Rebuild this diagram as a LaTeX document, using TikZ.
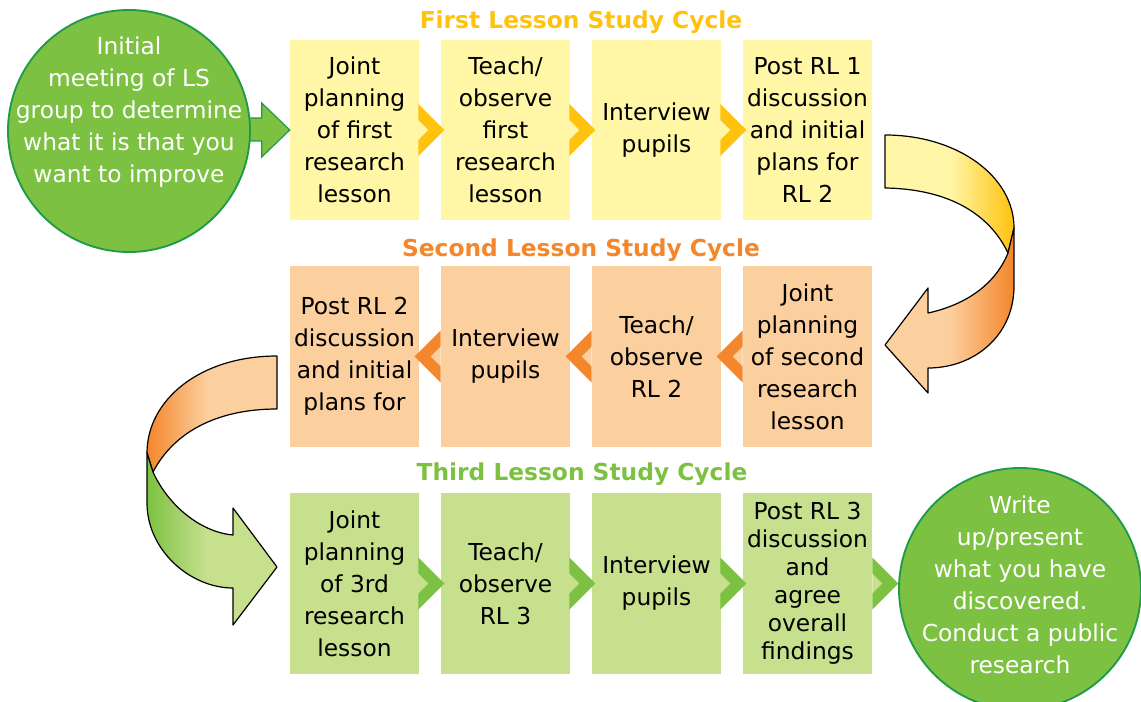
\documentclass[tikz,border=0pt]{standalone}
\usepackage{fontspec}
\setmainfont{DejaVu Sans}
\usetikzlibrary{calc}
\definecolor{ybox}{HTML}{FFF6A6}
\definecolor{obox}{HTML}{FCCF9E}
\definecolor{gbox}{HTML}{C6E08E}
\definecolor{gold}{HTML}{FFC20E}
\definecolor{orng}{HTML}{F4862B}
\definecolor{grn}{HTML}{7DC142}
\definecolor{dgrn}{HTML}{1F9A48}
\definecolor{ylight}{HTML}{FFF6A8}
\pgfdeclarehorizontalshading{yshade}{100bp}{color(0bp)=(ylight); color(50bp)=(ylight); color(75bp)=(gold); color(100bp)=(gold)}
\pgfdeclarehorizontalshading{oshadeR}{100bp}{color(0bp)=(obox); color(50bp)=(obox); color(75bp)=(orng); color(100bp)=(orng)}
\pgfdeclarehorizontalshading{oshadeL}{100bp}{color(0bp)=(orng); color(25bp)=(orng); color(48bp)=(obox); color(100bp)=(obox)}
\pgfdeclarehorizontalshading{gshadeL}{100bp}{color(0bp)=(grn); color(25bp)=(grn); color(48bp)=(gbox); color(100bp)=(gbox)}
\tikzset{
  pics/chevr/.style 2 args={code={
    \fill[#2] (0,-10)--(10,0)--(0,10)--cycle;
    \fill[#1] (0,-26)--(26,0)--(0,26)--(0,10)--(10,0)--(0,-10)--cycle;}}
}
\begin{document}
\begin{tikzpicture}[x=0.75pt,y=-0.75pt,
  box/.style={minimum width=96.75pt,minimum height=135.5pt,inner sep=0pt,align=center,font=\fontsize{17.5}{24}\selectfont},
  title/.style={font=\fontsize{17.5}{21}\selectfont\bfseries,inner sep=0pt},
  circ/.style={circle,minimum size=181.5pt,inner sep=0pt,fill=grn,draw=dgrn,line width=1.4pt},
  ctext/.style={align=center,text=white,font=\fontsize{17.5}{24}\selectfont,inner sep=0pt},
  band/.style={draw=black,line width=0.9pt,line join=round}]
\useasboundingbox (0,0) rectangle (1141,702);

% titles
\node[title,text=gold] (t1) at (581,22) {First Lesson Study Cycle};
\node[title,text=orng] (t2) at (581,250) {Second Lesson Study Cycle};
\node[title,text=grn] (t3) at (582,474) {Third Lesson Study Cycle};

% row 1
\node[box,fill=ybox] (b11) at (354.5,130) {Joint\\planning\\of first\\research\\lesson};
\node[box,fill=ybox] (b12) at (505.5,130) {Teach/\\observe\\first\\research\\lesson};
\node[box,fill=ybox] (b13) at (656.5,130) {Interview\\pupils};
\node[box,fill=ybox] (b14) at (807.5,130) {Post RL 1\\discussion\\and initial\\plans for\\RL 2};

% row 2
\node[box,fill=obox] (b21) at (354.5,356.5) {Post RL 2\\discussion\\and initial\\plans for};
\node[box,fill=obox] (b22) at (505.5,356.5) {Interview\\pupils};
\node[box,fill=obox] (b23) at (656.5,356.5) {Teach/\\observe\\RL 2};
\node[box,fill=obox] (b24) at (807.5,356.5) {Joint\\planning\\of second\\research\\lesson};

% row 3
\node[box,fill=gbox] (b31) at (354.5,583.5) {Joint\\planning\\of 3rd\\research\\lesson};
\node[box,fill=gbox] (b32) at (505.5,583.5) {Teach/\\observe\\RL 3};
\node[box,fill=gbox] (b33) at (656.5,583.5) {Interview\\pupils};
\node[box,fill=gbox,font=\fontsize{17.5}{21}\selectfont] (b34) at (807.5,583.5) {Post RL 3\\discussion\\and\\agree\\overall\\findings};

% chevrons
\pic at ($(b11.east)+(-1,0)$) {chevr={gold}{ybox}};
\pic at ($(b12.east)+(-1,0)$) {chevr={gold}{ybox}};
\pic at ($(b13.east)+(-1,0)$) {chevr={gold}{ybox}};
\pic[xscale=-1] at (b22.west) {chevr={orng}{obox}};
\pic[xscale=-1] at (b23.west) {chevr={orng}{obox}};
\pic[xscale=-1] at (b24.west) {chevr={orng}{obox}};
\pic at ($(b31.east)+(-1,0)$) {chevr={grn}{gbox}};
\pic at ($(b32.east)+(-1,0)$) {chevr={grn}{gbox}};
\pic at ($(b33.east)+(-1,0)$) {chevr={grn}{gbox}};
\pic at ($(b34.east)+(0,0)$) {chevr={grn}{gbox}};

% start block arrow
\coordinate (ctr) at (129,131);
\draw[fill=grn,draw=dgrn,line width=0.9pt,line join=miter]
  ($(b11.west)+(-50,-12)$) -- ($(b11.west)+(-28,-12)$) -- ($(b11.west)+(-28,-27)$)
  -- (b11.west) -- ($(b11.west)+(-28,27)$) -- ($(b11.west)+(-28,11)$) -- ($(b11.west)+(-50,11)$) -- cycle;

% circles
\node[circ] (c1) at (ctr) {};
\node[ctext] (c1t) at ($(c1.center)+(0,-19)$) {Initial\\meeting of LS\\group to determine\\what it is that you\\want to improve};
\node[circ] (c2) at (1020,589) {};
\node[ctext] (c2t) at ($(c2.center)+(0,-4)$) {Write\\up/present\\what you have\\discovered.\\Conduct a public\\research};

% curved arrow top right
\path[band,shading=yshade]
  (885,135) .. controls (957,135) and (1014,176) .. (1014,228) -- (1008,253)
  .. controls (990,215) and (950,189) .. (885,188) -- cycle;
\path[band,shading=oshadeR]
  (1014,228) -- (1014,286) .. controls (1014,335) and (975,368) .. (928,368)
  -- (928,393) -- (885,345) -- (928,288) -- (928,313)
  .. controls (965,305) and (995,285) .. (1008,253) -- cycle;

% curved arrow left
\path[band,shading=oshadeL]
  (277,356) .. controls (200,356) and (147,400) .. (147,453) -- (153,472)
  .. controls (175,430) and (220,409) .. (277,409) -- cycle;
\path[band,shading=gshadeL]
  (147,453) -- (147,503) .. controls (147,550) and (190,588) .. (233,588)
  -- (233,625) -- (277,567) -- (233,508) -- (233,535)
  .. controls (200,532) and (168,505) .. (153,472) -- cycle;
\end{tikzpicture}
\end{document}
